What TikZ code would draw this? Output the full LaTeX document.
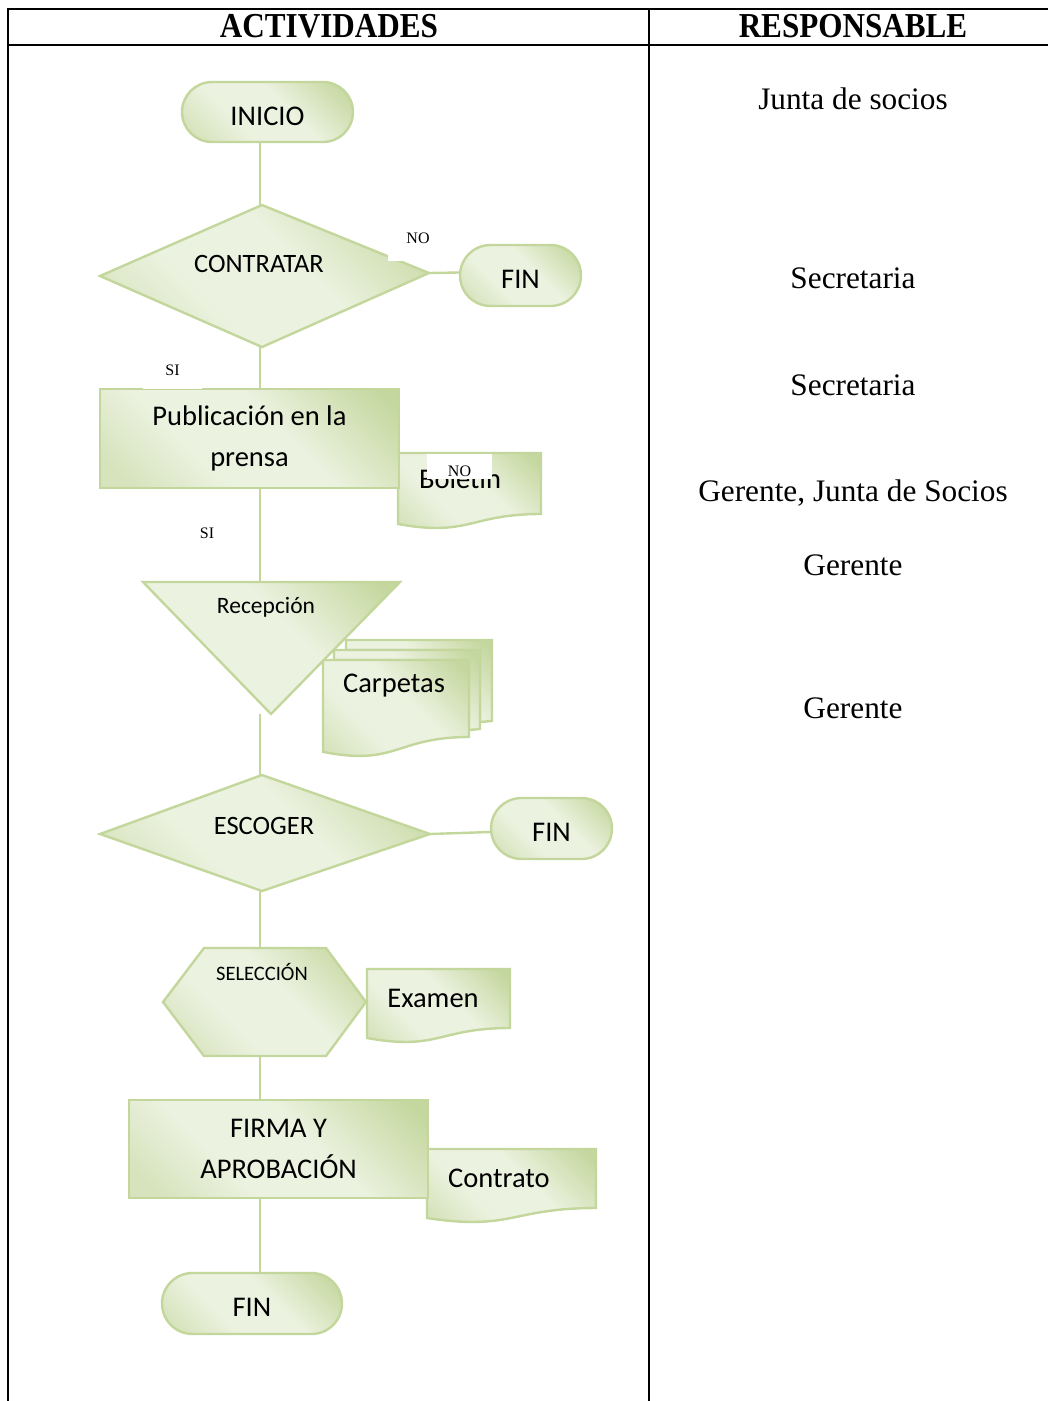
\documentclass[tikz,border=0pt]{standalone}
\usepackage{fontspec}
\setmainfont{Liberation Serif}
\newfontfamily\shapefont{Carlito}
\usetikzlibrary{shapes.misc}

\definecolor{gline}{RGB}{195,214,155}
\definecolor{gdark}{RGB}{196,215,158}
\definecolor{gmid}{RGB}{214,227,188}
\definecolor{glight}{RGB}{236,242,224}
\pgfdeclarehorizontalshading{greenfx}{100bp}{color(0bp)=(gmid); color(20bp)=(gmid); color(38bp)=(glight); color(57bp)=(glight); color(82bp)=(gdark); color(100bp)=(gdark)}
\pgfdeclarelayer{wires}
\pgfsetlayers{wires,main}

\begin{document}
\begin{tikzpicture}[x=1pt,y=-1pt,
  tabline/.style={line width=2pt, black},
  shp/.style={draw=gline, line width=2.4pt, shade, shading=greenfx, shading angle=45},
  term/.style={shp, rounded rectangle, inner sep=0pt, text height=29pt, text depth=2.7pt},
  box/.style={shp, rectangle, inner sep=0pt, align=center},
  frame/.style={rectangle, draw=none, inner sep=0pt},
  stxt/.style={font=\shapefont\fontsize{28.5}{41}\selectfont, inner sep=0pt},
  dtxt/.style={font=\shapefont\fontsize{26.5}{30}\selectfont, inner sep=0pt},
  conn/.style={draw=gline, line width=2.4pt},
  tag/.style={fill=white, inner sep=0pt, font=\fontsize{16}{16}\selectfont},
  resp/.style={font=\fontsize{31.3}{32}\selectfont, inner sep=0pt},
  head/.style={font=\bfseries\fontsize{35}{35}\selectfont, inner sep=0pt}
]
\useasboundingbox (0,0) rectangle (1048,1401);

% table frame
\draw[tabline] (8,9) -- (1048,9);
\draw[tabline] (8,45) -- (1048,45);
\draw[tabline] (8,8) -- (8,1401);
\draw[tabline] (649,9) -- (649,1401);
\node[head] (h1) at (329,26) {\scalebox{0.89}[1]{ACTIVIDADES}};
\node[head] (h2) at (853,26) {\scalebox{0.89}[1]{RESPONSABLE}};

% responsible column
\node[resp] (r1) at (853,99) {Junta de socios};
\node[resp] (r2) at (853,278) {Secretaria};
\node[resp] (r3) at (853,385) {Secretaria};
\node[resp] (r4) at (853,493) {Gerente, Junta de Socios};
\node[resp] (r5) at (853,565) {Gerente};
\node[resp] (r6) at (853,708) {Gerente};

% start
\node[term, stxt, minimum width=171, minimum height=60] (inicio) at (267.5,112) {INICIO};

% decision: contratar
\node[frame, minimum width=329, minimum height=142] (contratar) at (264.5,276) {};
\path[shp] (100,276) -- (262,205) -- (429,273) -- (262,347) -- cycle;
\node[dtxt] (contratar-t) at (259,264) {CONTRATAR};
\node[term, stxt, minimum width=121, minimum height=61] (fin1) at (520.5,275.5) {FIN};

% bulletin document
\node[frame, minimum width=143, minimum height=76] (boletin) at (469.5,491) {};
\path[shp] (398,453) -- (541,453) -- (541,514) .. controls (469.5,514) and (469.5,537) .. (398,524) -- cycle;
\node[stxt] (boletin-t) at (460,479) {Boletín};

% publication
\node[box, stxt, minimum width=299, minimum height=99] (pub) at (249.5,438.5) {Publicación en la\\prensa};

% folders (multi-document)
\node[frame, minimum width=169, minimum height=120] (carpetas) at (407.5,700) {};
\path[shp] (346,640) -- (492,640) -- (492,721) -- (480,722) -- (480,650) -- (346,650) -- cycle;
\path[shp] (334,650) -- (480,650) -- (480,729) -- (469,730) -- (469,660) -- (334,660) -- cycle;
\path[shp] (323,660) -- (469,660) -- (469,737) .. controls (396,737) and (396,766.6) .. (323,751.8) -- cycle;
\node[stxt] (carpetas-t) at (394,686) {Carpetas};

% reception (merge triangle)
\node[frame, minimum width=257, minimum height=132] (recepcion) at (271.5,648) {};
\path[shp] (143,582) -- (400,582) -- (271,714) -- cycle;
\node[stxt, font=\shapefont\fontsize{23.5}{24}\selectfont] (recepcion-t) at (266,607) {Recepción};

% decision: escoger
\node[frame, minimum width=330, minimum height=116] (escoger) at (265,833) {};
\path[shp] (100,834) -- (262,775) -- (430,834) -- (262,891) -- cycle;
\node[dtxt] (escoger-t) at (264,826) {ESCOGER};
\node[term, stxt, minimum width=121, minimum height=61] (fin2) at (551.5,828.5) {FIN};

% selection (hexagon)
\node[frame, minimum width=203, minimum height=108] (seleccion) at (264.5,1002) {};
\path[shp] (163,1002) -- (204,948) -- (326,948) -- (366,1002) -- (326,1056) -- (204,1056) -- cycle;
\node[stxt, font=\shapefont\fontsize{20.5}{21}\selectfont] (seleccion-t) at (262,972) {SELECCIÓN};

% exam document
\node[frame, minimum width=143, minimum height=74] (examen) at (438.5,1006) {};
\path[shp] (367,969) -- (510,969) -- (510,1028) .. controls (438.5,1028) and (438.5,1051) .. (367,1038) -- cycle;
\node[stxt] (examen-t) at (433,998) {Examen};

% contract document
\node[frame, minimum width=169, minimum height=74] (contrato) at (511.5,1186) {};
\path[shp] (427,1149) -- (596,1149) -- (596,1208) .. controls (511.5,1208) and (511.5,1231) .. (427,1218) -- cycle;
\node[stxt] (contrato-t) at (499,1178) {Contrato};

% signature and approval
\node[box, stxt, minimum width=299, minimum height=98] (firma) at (278.5,1149) {FIRMA Y\\APROBACIÓN};

% end
\node[term, stxt, minimum width=180, minimum height=61] (fin3) at (252,1303.5) {FIN};

% connectors
\begin{pgfonlayer}{wires}
\coordinate (spine) at (260,0);
\draw[conn] (inicio.south -| spine) -- (contratar.north -| spine);
\draw[conn] ([yshift=3pt]contratar.east) -- ([yshift=3pt]fin1.west);
\draw[conn] (contratar.south -| spine) -- (pub.north -| spine);
\draw[conn] (pub.south -| spine) -- (recepcion.north -| spine);
\draw[conn] (recepcion.south -| spine) -- (escoger.north -| spine);
\draw[conn] ([yshift=-1pt]escoger.east) -- ([yshift=-3.5pt]fin2.west);
\draw[conn] (escoger.south -| spine) -- (seleccion.north -| spine);
\draw[conn] (seleccion.south -| spine) -- (firma.north -| spine);
\draw[conn] (firma.south -| spine) -- (fin3.north -| spine);
\end{pgfonlayer}

% branch labels
\node[tag, minimum width=60, minimum height=46] (no1) at (418,238) {NO};
\node[tag, minimum width=59, minimum height=38] (si1) at (172.5,370) {SI};
\node[tag, minimum width=30, minimum height=20] (si2) at (207,533) {SI};
\node[tag, minimum width=65, minimum height=25, text height=22pt, text depth=3pt] (no2) at (459.5,466.5) {NO};
\end{tikzpicture}
\end{document}
